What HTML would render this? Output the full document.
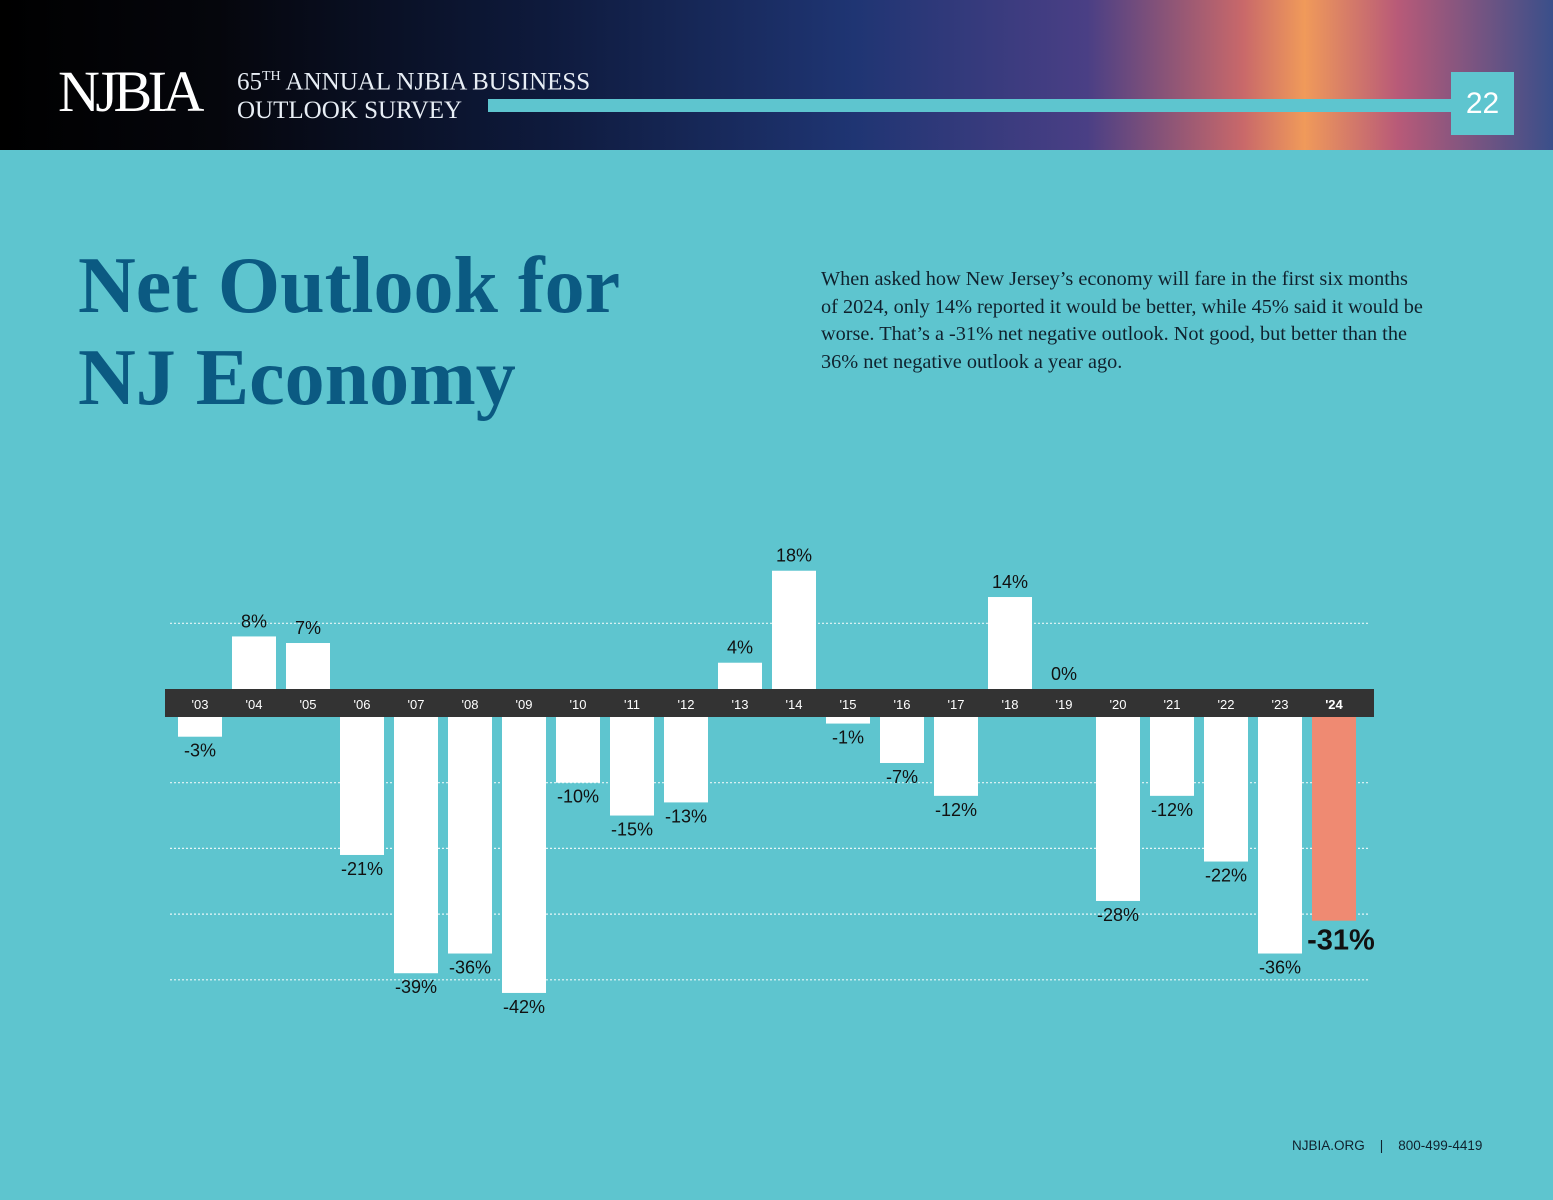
<!DOCTYPE html>
<html><head><meta charset="utf-8"><style>
body{margin:0;width:1553px;height:1200px;background:#5ec5cf;overflow:hidden;font-family:"Liberation Sans",sans-serif;position:relative}
#hdr{position:absolute;left:0;top:0;width:1553px;height:150px;background:linear-gradient(90deg,#000 0%,#05060c 14%,#0e1a3c 35%,#1f3573 55%,#4a3f85 70%,#c8686a 80%,#f09a5a 84%,#b85a78 90%,#3a4f8a 100%)}
.abs{position:absolute}
</style></head><body>
<div id="hdr">
 <div class="abs" style="left:58px;top:58px;font:500 58px 'Liberation Serif',serif;color:#fff;letter-spacing:-4.5px">NJBIA</div>
 <div class="abs" style="left:237px;top:62px;font:25px/29px 'Liberation Serif',serif;color:#e8eef5">65<sup style="font-size:14px">TH</sup> ANNUAL NJBIA BUSINESS<br>OUTLOOK SURVEY</div>
 <div class="abs" style="left:488px;top:99px;width:963px;height:13px;background:#5ec5cf"></div>
 <div class="abs" style="left:1451px;top:72px;width:63px;height:63px;background:#5ec5cf;color:#fff;font:30px/63px 'Liberation Sans',sans-serif;text-align:center">22</div>
</div>
<div class="abs" style="left:78px;top:240px;font:bold 80px/92px 'Liberation Serif',serif;color:#0b5a82">Net Outlook for<br>NJ Economy</div>
<div class="abs" style="left:821px;top:266px;white-space:nowrap;font:20.3px/27.5px 'Liberation Serif',serif;color:#10222e">When asked how New Jersey’s economy will fare in the first six months<br>of 2024, only 14% reported it would be better, while 45% said it would be<br>worse. That’s a -31% net negative outlook. Not good, but better than the<br>36% net negative outlook a year ago.</div>
<svg id="chart" class="abs" style="left:0;top:0" width="1553" height="1200"></svg>
<div class="abs" style="left:1292px;top:1138px;font:13.5px 'Liberation Sans',sans-serif;color:#10222e">NJBIA.ORG &nbsp;&nbsp; | &nbsp;&nbsp; 800-499-4419</div>
<script>
const categories=["'03","'04","'05","'06","'07","'08","'09","'10","'11","'12","'13","'14","'15","'16","'17","'18","'19","'20","'21","'22","'23","'24"];
const values=[-3,8,7,-21,-39,-36,-42,-10,-15,-13,4,18,-1,-7,-12,14,0,-28,-12,-22,-36,-31];
const gridValues=[10,-10,-20,-30,-40];
const NS="http://www.w3.org/2000/svg";
const svg=document.getElementById('chart');
const x0=200,step=54,bw=44,posBase=689,negBase=717,k=6.57;
const y=v=>v>=0?posBase-v*k:negBase-v*k;
function mk(t,a){const e=document.createElementNS(NS,t);for(const n in a)e.setAttribute(n,a[n]);svg.appendChild(e);return e;}
gridValues.forEach(g=>{const l=mk('line',{x1:170,x2:1370,y1:y(g),y2:y(g),stroke:'#e6f6f8','stroke-width':1.2,'stroke-dasharray':'2 2'});

});
const band=mk('rect',{x:165,y:posBase,width:1209,height:negBase-posBase,fill:'#333'});


values.forEach((v,i)=>{
 const cx=x0+i*step,last=i===values.length-1;
 const top=v>=0?y(v):negBase,h=v>=0?posBase-y(v):y(v)-negBase;
 const r=mk('rect',{x:cx-bw/2,y:top,width:bw,height:Math.max(h,0),fill:last?'#ef8a72':'#fff'});
 
 
 const t=mk('text',{x:cx,y:709,fill:'#fff','font-size':13,'text-anchor':'middle','font-weight':last?'bold':'normal'});
 t.textContent=categories[i];
 
 
 let lx=cx,ly=v>=0?y(v)-9:y(v)+20,fs=18,fw='normal';
 if(last){lx=cx+7;ly=y(v)+29;fs=29;fw='bold';}
 const vl=mk('text',{x:lx,y:ly,fill:'#111','font-size':fs,'font-weight':fw,'text-anchor':'middle'});
 vl.textContent=v+'%';
 
 
});
</script>
</body></html>
